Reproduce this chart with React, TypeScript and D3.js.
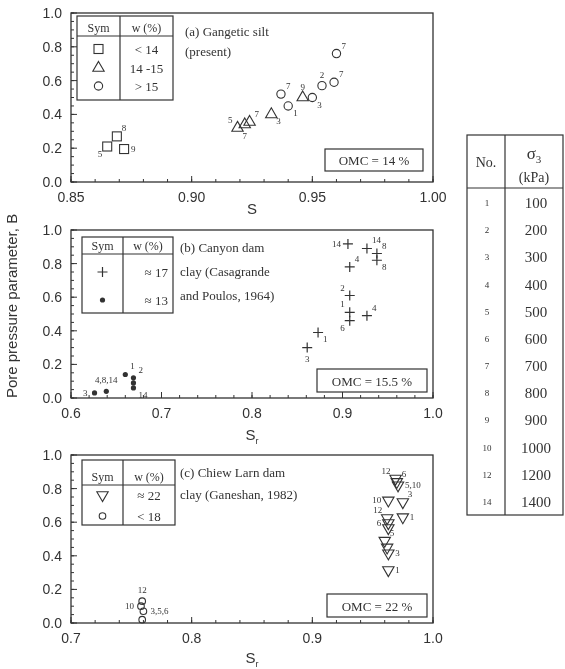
import React from 'react';
import * as d3 from 'd3';

// (a) Gangetic silt (present): S vs B, label = sigma3 number, at = label side
const aSquares = [
  { s: 0.865, b: 0.21, no: '5', at: 'sw' },
  { s: 0.869, b: 0.27, no: '8', at: 'ne' },
  { s: 0.872, b: 0.195, no: '9', at: 'e' },
];
const aTriangles = [
  { s: 0.919, b: 0.32, no: '5', at: 'nw' },
  { s: 0.922, b: 0.34, no: '7', at: 's' },
  { s: 0.924, b: 0.355, no: '7', at: 'ne' },
  { s: 0.933, b: 0.40, no: '3', at: 'se' },
  { s: 0.946, b: 0.50, no: '9', at: 'n' },
];
const aCircles = [
  { s: 0.937, b: 0.52, no: '7', at: 'ne' },
  { s: 0.940, b: 0.45, no: '1', at: 'se' },
  { s: 0.950, b: 0.50, no: '3', at: 'se' },
  { s: 0.954, b: 0.57, no: '2', at: 'n' },
  { s: 0.959, b: 0.59, no: '7', at: 'ne' },
  { s: 0.960, b: 0.76, no: '7', at: 'ne' },
];

// (b) Canyon dam clay (Casagrande and Poulos, 1964)
const bPlus = [
  { s: 0.906, b: 0.917, no: '14', at: 'w' },
  { s: 0.927, b: 0.89, no: '14', at: 'ne' },
  { s: 0.938, b: 0.86, no: '8', at: 'ne' },
  { s: 0.938, b: 0.82, no: '8', at: 'se' },
  { s: 0.908, b: 0.78, no: '4', at: 'ne' },
  { s: 0.908, b: 0.61, no: '2', at: 'nw' },
  { s: 0.908, b: 0.51, no: '1', at: 'nw' },
  { s: 0.908, b: 0.46, no: '6', at: 'sw' },
  { s: 0.927, b: 0.49, no: '4', at: 'ne' },
  { s: 0.873, b: 0.39, no: '1', at: 'se' },
  { s: 0.861, b: 0.30, no: '3', at: 's' },
];
const bDots = [
  { s: 0.626, b: 0.03, no: '3', at: 'w' },
  { s: 0.639, b: 0.04, no: '4,8,14', at: 'n' },
  { s: 0.660, b: 0.14, no: '1', at: 'ne' },
  { s: 0.669, b: 0.12, no: '2', at: 'ne' },
  { s: 0.669, b: 0.09, no: '', at: 'e' },
  { s: 0.669, b: 0.06, no: '14', at: 'se' },
];

// (c) Chiew Larn dam clay (Ganeshan, 1982)
const cTriangles = [
  { s: 0.969, b: 0.86, no: '12', at: 'nw' },
  { s: 0.970, b: 0.84, no: '6', at: 'ne' },
  { s: 0.971, b: 0.82, no: '5,10', at: 'e' },
  { s: 0.963, b: 0.73, no: '10', at: 'w' },
  { s: 0.975, b: 0.72, no: '3', at: 'ne' },
  { s: 0.962, b: 0.625, no: '12', at: 'nw' },
  { s: 0.963, b: 0.595, no: '6', at: 'w' },
  { s: 0.963, b: 0.565, no: '', at: 'e' },
  { s: 0.975, b: 0.63, no: '1', at: 'e' },
  { s: 0.960, b: 0.49, no: '5', at: 'ne' },
  { s: 0.962, b: 0.45, no: '', at: 'e' },
  { s: 0.963, b: 0.415, no: '3', at: 'e' },
  { s: 0.963, b: 0.315, no: '1', at: 'e' },
];
const cCircles = [
  { s: 0.759, b: 0.13, no: '12', at: 'n' },
  { s: 0.758, b: 0.10, no: '10', at: 'w' },
  { s: 0.760, b: 0.07, no: '3,5,6', at: 'e' },
  { s: 0.759, b: 0.02, no: '', at: 'e' },
];

const stressNo = ['1', '2', '3', '4', '5', '6', '7', '8', '9', '10', '12', '14'];
const stressKPa = [100, 200, 300, 400, 500, 600, 700, 800, 900, 1000, 1200, 1400];

const ink = '#333';
const serif = '"Liberation Serif", "DejaVu Serif", serif';
const sans = '"Liberation Sans", Arial, sans-serif';

const offs: Record<string, [number, number, string]> = {
  n: [0, -8, 'middle'], ne: [5, -5, 'start'], e: [7, 3, 'start'], se: [5, 10, 'start'],
  s: [0, 14, 'middle'], sw: [-5, 10, 'end'], w: [-7, 3, 'end'], nw: [-5, -5, 'end'],
};

const Label = ({ x, y, t, at }) => {
  if (!t) return null;
  const [dx, dy, anchor] = offs[at];
  return (
    <text x={x + dx} y={y + dy} fontSize={9} fontFamily={serif} fill={ink} textAnchor={anchor}>{t}</text>
  );
};

const tri = d3.symbol().type(d3.symbolTriangle).size(56)();
const circ = d3.symbol().type(d3.symbolCircle).size(54)();

const Marker = ({ kind, x, y }) => {
  const st = { fill: 'none', stroke: ink, strokeWidth: 1.1 };
  if (kind === 'square') return <rect x={x - 4.5} y={y - 4.5} width={9} height={9} {...st} />;
  if (kind === 'tri') return <path d={tri} transform={`translate(${x},${y})`} {...st} />;
  if (kind === 'tridown') return <path d={tri} transform={`translate(${x},${y}) rotate(180)`} {...st} />;
  if (kind === 'circle') return <path d={circ} transform={`translate(${x},${y})`} {...st} />;
  if (kind === 'smallcircle') return <circle cx={x} cy={y} r={3.3} {...st} />;
  if (kind === 'plus') return <path d={`M${x - 5},${y}H${x + 5}M${x},${y - 5}V${y + 5}`} stroke={ink} strokeWidth={1.2} />;
  return <circle cx={x} cy={y} r={2.6} fill={ink} />;
};

const L = 71, R = 433;

const Panel = ({ top, bottom, xDom, xStep, xMinor, fmt, title, sub, labelY, legend, note, omc, series }) => {
  const x = d3.scaleLinear().domain(xDom).range([L, R]);
  const y = d3.scaleLinear().domain([0, 1]).range([bottom, top]);
  const xMaj = d3.range(xDom[0], xDom[1] + 1e-9, xStep);
  const xMin = d3.range(xDom[0], xDom[1] + 1e-9, xMinor);
  const yMaj = d3.range(0, 1.0001, 0.2);
  const yMin = d3.range(0, 1.0001, 0.05);
  const f = d3.format(fmt);
  return (
    <g>
      <rect x={L} y={top} width={R - L} height={bottom - top} fill="none" stroke={ink} strokeWidth={1.3} />
      {xMin.map((v, i) => <line key={'xm' + i} x1={x(v)} x2={x(v)} y1={bottom} y2={bottom - 3} stroke={ink} />)}
      {xMaj.map((v, i) => <line key={'xM' + i} x1={x(v)} x2={x(v)} y1={bottom} y2={bottom - 6} stroke={ink} />)}
      {yMin.map((v, i) => <line key={'ym' + i} x1={L} x2={L + 3} y1={y(v)} y2={y(v)} stroke={ink} />)}
      {yMaj.map((v, i) => <line key={'yM' + i} x1={L} x2={L + 6} y1={y(v)} y2={y(v)} stroke={ink} />)}
      {xMaj.map((v, i) => (
        <text key={'xl' + i} x={x(v)} y={bottom + 20} fontSize={14} fontFamily={sans} fill={ink} textAnchor="middle">{f(v)}</text>
      ))}
      {yMaj.map((v, i) => (
        <text key={'yl' + i} x={62} y={y(v) + 5} fontSize={14} fontFamily={sans} fill={ink} textAnchor="end">{d3.format('.1f')(v)}</text>
      ))}
      <text x={252} y={labelY} fontSize={15} fontFamily={sans} fill={ink} textAnchor="middle">
        {title}{sub && <tspan fontSize={9} dy={4}>{sub}</tspan>}
      </text>
      {/* legend box */}
      <rect x={legend.x0} y={legend.y0} width={legend.x1 - legend.x0} height={legend.y1 - legend.y0} fill="white" stroke={ink} strokeWidth={1.2} />
      <line x1={legend.xd} x2={legend.xd} y1={legend.y0} y2={legend.y1} stroke={ink} strokeWidth={1.2} />
      <line x1={legend.x0} x2={legend.x1} y1={legend.yh} y2={legend.yh} stroke={ink} strokeWidth={1.2} />
      <text x={(legend.x0 + legend.xd) / 2} y={legend.yh - 4} fontSize={12} fontFamily={serif} fill={ink} textAnchor="middle">Sym</text>
      <text x={(legend.xd + legend.x1) / 2} y={legend.yh - 4} fontSize={12} fontFamily={serif} fill={ink} textAnchor="middle">w (%)</text>
      {legend.rows.map((r, i) => (
        <g key={'lg' + i}>
          <Marker kind={r.kind} x={(legend.x0 + legend.xd) / 2} y={r.y} />
          <text x={r.right ? legend.x1 - 5 : (legend.xd + legend.x1) / 2} y={r.y + 5} fontSize={13} fontFamily={serif} fill={ink}
            textAnchor={r.right ? 'end' : 'middle'}>{r.t}</text>
        </g>
      ))}
      {note.lines.map((t, i) => (
        <text key={'nt' + i} x={note.x} y={note.y + i * note.dy} fontSize={13} fontFamily={serif} fill={ink}>{t}</text>
      ))}
      <rect x={omc.x0} y={omc.y0} width={omc.x1 - omc.x0} height={omc.y1 - omc.y0} fill="white" stroke={ink} strokeWidth={1.2} />
      <text x={(omc.x0 + omc.x1) / 2} y={(omc.y0 + omc.y1) / 2 + 5} fontSize={13} fontFamily={serif} fill={ink} textAnchor="middle">{omc.t}</text>
      {series.map((sr, j) => sr.data.map((d, i) => (
        <g key={'p' + j + '_' + i}>
          <Marker kind={sr.kind} x={x(d.s)} y={y(d.b)} />
          <Label x={x(d.s)} y={y(d.b)} t={d.no} at={d.at} />
        </g>
      )))}
    </g>
  );
};

export default function App() {
  const rowY = d3.scaleLinear().domain([0, stressKPa.length - 1]).range([203, 502]);
  return (
    <svg width={565} height={669} style={{ position: 'absolute', left: 0, top: 0, background: 'white' }}>
      <defs>
        <filter id="scan"><feGaussianBlur stdDeviation="0.45" /></filter>
      </defs>
      <g filter="url(#scan)">
        <Panel top={13} bottom={182} xDom={[0.85, 1.0]} xStep={0.05} xMinor={0.01} fmt=".2f" title="S" sub="" labelY={214}
          legend={{ x0: 77, x1: 173, xd: 120, y0: 16, y1: 100, yh: 36, rows: [
            { kind: 'square', y: 49, t: '< 14' }, { kind: 'tri', y: 68, t: '14 -15' }, { kind: 'circle', y: 86, t: '> 15' }] }}
          note={{ x: 185, y: 36, dy: 20, lines: ['(a) Gangetic silt', '(present)'] }}
          omc={{ x0: 325, x1: 423, y0: 149, y1: 171, t: 'OMC = 14 %' }}
          series={[{ kind: 'square', data: aSquares }, { kind: 'tri', data: aTriangles }, { kind: 'circle', data: aCircles }]} />
        <Panel top={230} bottom={398} xDom={[0.6, 1.0]} xStep={0.1} xMinor={0.02} fmt=".1f" title="S" sub="r" labelY={440}
          legend={{ x0: 82, x1: 173, xd: 123, y0: 237, y1: 313, yh: 254, rows: [
            { kind: 'plus', y: 272, t: '≈ 17', right: true }, { kind: 'dot', y: 300, t: '≈ 13', right: true }] }}
          note={{ x: 180, y: 252, dy: 24, lines: ['(b) Canyon dam', 'clay (Casagrande', 'and Poulos, 1964)'] }}
          omc={{ x0: 317, x1: 427, y0: 369, y1: 392, t: 'OMC = 15.5 %' }}
          series={[{ kind: 'plus', data: bPlus }, { kind: 'dot', data: bDots }]} />
        <Panel top={455} bottom={623} xDom={[0.7, 1.0]} xStep={0.1} xMinor={0.02} fmt=".1f" title="S" sub="r" labelY={663}
          legend={{ x0: 82, x1: 175, xd: 123, y0: 460, y1: 525, yh: 485, rows: [
            { kind: 'tridown', y: 495, t: '≈ 22' }, { kind: 'smallcircle', y: 516, t: '< 18' }] }}
          note={{ x: 180, y: 477, dy: 22, lines: ['(c) Chiew Larn dam', 'clay (Ganeshan, 1982)'] }}
          omc={{ x0: 327, x1: 427, y0: 594, y1: 617, t: 'OMC = 22 %' }}
          series={[{ kind: 'tridown', data: cTriangles }, { kind: 'smallcircle', data: cCircles }]} />

        <text transform="translate(17,306) rotate(-90)" fontSize={15} fontFamily={sans} fill={ink} textAnchor="middle">
          Pore pressure parameter, B
        </text>

        {/* sigma3 table */}
        <rect x={467} y={135} width={96} height={380} fill="none" stroke={ink} strokeWidth={1.2} />
        <line x1={505} x2={505} y1={135} y2={515} stroke={ink} strokeWidth={1.2} />
        <line x1={467} x2={563} y1={188} y2={188} stroke={ink} strokeWidth={1.2} />
        <text x={486} y={167} fontSize={14} fontFamily={serif} fill={ink} textAnchor="middle">No.</text>
        <text x={534} y={159} fontSize={17} fontFamily={serif} fill={ink} textAnchor="middle">σ<tspan fontSize={11} dy={4}>3</tspan></text>
        <text x={534} y={182} fontSize={14} fontFamily={serif} fill={ink} textAnchor="middle">(kPa)</text>
        {stressKPa.map((v, i) => (
          <g key={'row' + i}>
            <text x={487} y={rowY(i) + 3} fontSize={9} fontFamily={serif} fill={ink} textAnchor="middle">{stressNo[i]}</text>
            <text x={536} y={rowY(i) + 5} fontSize={15} fontFamily={serif} fill={ink} textAnchor="middle">{v}</text>
          </g>
        ))}
      </g>
    </svg>
  );
}
